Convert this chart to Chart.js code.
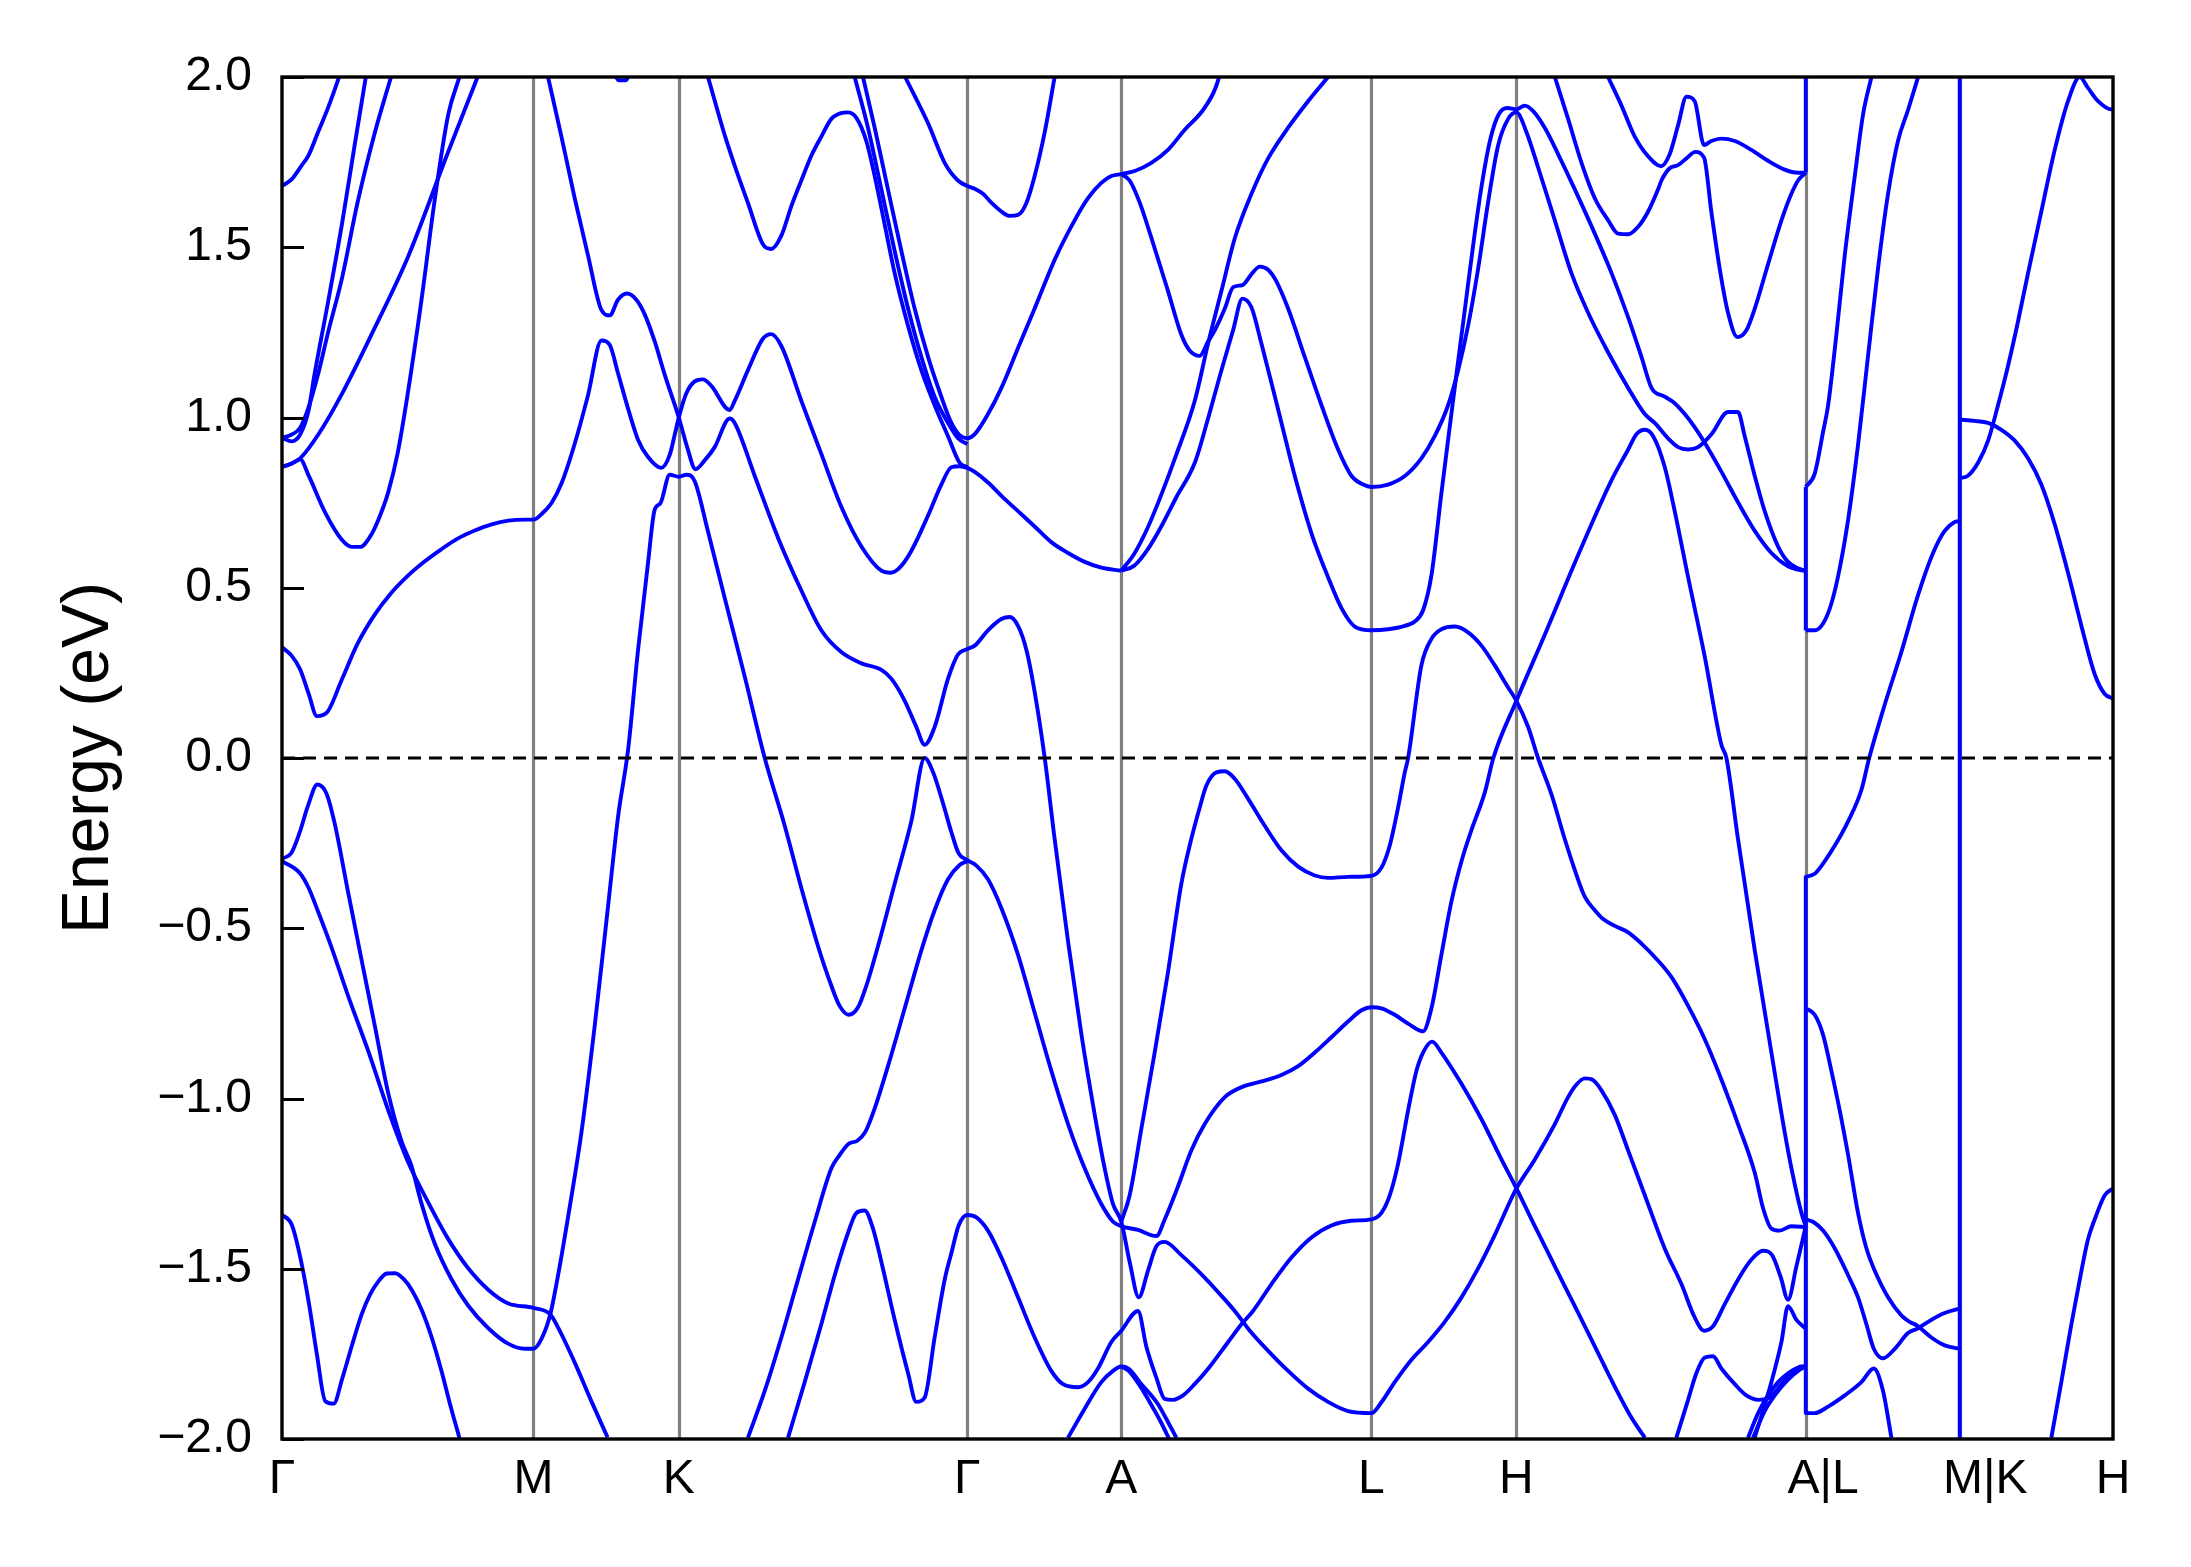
<!DOCTYPE html>
<html>
<head>
<meta charset="utf-8">
<script src="https://cdn.jsdelivr.net/npm/chart.js@4"></script>
<style>
  html, body { margin: 0; padding: 0; background: #fff; }
  canvas { display: block; }
</style>
</head>
<body>
<canvas id="bands" width="2191" height="1567"></canvas>
<script>
// high symmetry points along the k path
const kPoints = [0, 1.80, 2.84, 4.905, 6.007, 7.797, 8.835, 10.906, 12.008, 13.105]
const kLabels = ['Γ', 'M', 'K', 'Γ', 'A', 'L', 'H', 'A|L', 'M|K', 'H']
const kLabelPos = [0, 1.80, 2.84, 4.905, 6.007, 7.797, 8.835, 11.03, 12.19, 13.105]
const eTicks = [-2, -1.5, -1, -0.5, 0, 0.5, 1, 1.5, 2]
const fermi = [[0, 0], [13.105, 0]]

// bands, [k, E] pairs
const bandsFromGamma = [
  [[0,1.68],[0.07,1.70],[0.14,1.74],[0.19,1.77],[0.26,1.84],[0.33,1.91],[0.40,1.99],[0.43,2.03]],
  [[0,0.94],[0.07,0.93],[0.13,0.95],[0.19,1.02],[0.23,1.12],[0.33,1.34],[0.43,1.57],[0.52,1.80],[0.60,2.0]],
  [[0,0.94],[0.07,0.95],[0.13,0.97],[0.19,1.03],[0.26,1.13],[0.33,1.25],[0.43,1.41],[0.54,1.63],[0.66,1.83],[0.78,2.0]],
  [[0,0.855],[0.07,0.865],[0.13,0.88],[0.26,0.95],[0.43,1.07],[0.66,1.26],[0.90,1.47],[1.18,1.77],[1.40,2.0]],
  [[0,0.855],[0.07,0.865],[0.13,0.877],[0.19,0.83],[0.31,0.72],[0.43,0.64],[0.50,0.62],[0.56,0.62],[0.63,0.65],[0.69,0.70],[0.76,0.78],[0.83,0.90],[0.90,1.07],[1.00,1.35],[1.09,1.63],[1.19,1.89],[1.27,2.0]],
  [[0,0.325],[0.07,0.30],[0.13,0.26],[0.19,0.19],[0.25,0.123],[0.32,0.133],[0.43,0.232],[0.54,0.335],[0.66,0.419],[0.78,0.484],[0.90,0.535],[1.02,0.577],[1.14,0.613],[1.26,0.645],[1.38,0.668],[1.50,0.686],[1.62,0.697],[1.74,0.70],[1.80,0.70],[1.857,0.716],[1.928,0.748],[2.0,0.806],[2.095,0.923],[2.19,1.065],[2.286,1.226],[2.346,1.213],[2.405,1.13],[2.477,1.026],[2.548,0.935],[2.62,0.884],[2.715,0.852],[2.775,0.89],[2.81,0.948],[2.84,1.0],[2.894,1.071],[2.954,1.106],[3.013,1.112],[3.073,1.093],[3.204,1.022],[3.24,1.049],[3.335,1.139],[3.443,1.232],[3.502,1.245],[3.574,1.21],[3.717,1.049],[3.86,0.893],[4.003,0.738],[4.147,0.621],[4.29,0.55],[4.356,0.544],[4.421,0.559],[4.504,0.608],[4.624,0.712],[4.719,0.803],[4.791,0.854],[4.85,0.857],[4.905,0.852],[4.958,0.84],[5.053,0.809],[5.149,0.77],[5.268,0.725],[5.387,0.68],[5.506,0.634],[5.626,0.602],[5.745,0.576],[5.864,0.559],[6.007,0.55]],
  [[0,-0.296],[0.067,-0.279],[0.127,-0.218],[0.186,-0.14],[0.253,-0.078],[0.318,-0.104],[0.377,-0.192],[0.473,-0.394],[0.568,-0.59],[0.664,-0.786],[0.759,-0.982],[0.855,-1.125],[0.926,-1.197],[0.998,-1.308],[1.093,-1.426],[1.212,-1.53],[1.332,-1.608],[1.475,-1.674],[1.618,-1.72],[1.737,-1.735],[1.80,-1.735],[1.857,-1.706],[1.919,-1.636],[1.976,-1.519],[2.047,-1.349],[2.143,-1.10],[2.238,-0.787],[2.334,-0.434],[2.405,-0.173],[2.477,0.024],[2.548,0.316],[2.62,0.574],[2.667,0.729],[2.708,0.748],[2.775,0.832],[2.84,0.826],[2.894,0.832],[2.954,0.813],[3.049,0.665],[3.168,0.471],[3.312,0.239],[3.455,0.0],[3.598,-0.199],[3.717,-0.382],[3.836,-0.552],[3.932,-0.669],[3.991,-0.728],[4.056,-0.754],[4.123,-0.732],[4.182,-0.669],[4.266,-0.552],[4.385,-0.369],[4.504,-0.186],[4.60,0.0],[4.66,-0.042],[4.731,-0.133],[4.791,-0.218],[4.843,-0.28],[4.905,-0.30],[4.97,-0.316],[5.053,-0.356],[5.149,-0.441],[5.268,-0.578],[5.387,-0.748],[5.506,-0.918],[5.626,-1.075],[5.745,-1.205],[5.864,-1.31],[5.948,-1.362],[6.007,-1.375],[6.127,-1.386],[6.258,-1.404],[6.317,-1.356],[6.413,-1.258],[6.508,-1.153],[6.604,-1.075],[6.748,-0.996],[6.891,-0.963],[7.01,-0.95],[7.153,-0.931],[7.273,-0.905],[7.392,-0.865],[7.511,-0.82],[7.63,-0.774],[7.726,-0.741],[7.797,-0.732],[7.869,-0.735],[7.964,-0.754],[8.06,-0.78],[8.167,-0.803],[8.227,-0.735],[8.298,-0.578],[8.37,-0.421],[8.442,-0.303],[8.513,-0.212],[8.609,-0.101],[8.67,0.0],[8.835,0.168],[9.038,0.362],[9.277,0.596],[9.516,0.816],[9.635,0.906],[9.694,0.951],[9.754,0.964],[9.814,0.945],[9.897,0.854],[9.968,0.725],[10.064,0.531],[10.183,0.298],[10.302,0.039],[10.338,0.0],[10.421,-0.238],[10.541,-0.565],[10.66,-0.865],[10.779,-1.153],[10.875,-1.336],[10.906,-1.375]],
  [[0,-0.303],[0.13,-0.339],[0.19,-0.381],[0.26,-0.453],[0.35,-0.551],[0.47,-0.695],[0.62,-0.864],[0.76,-1.034],[0.90,-1.184],[1.05,-1.308],[1.19,-1.413],[1.33,-1.497],[1.48,-1.563],[1.62,-1.602],[1.80,-1.615],[1.92,-1.634],[1.98,-1.676],[2.10,-1.78],[2.21,-1.885],[2.33,-1.995]],
  [[0,-1.341],[0.07,-1.371],[0.13,-1.465],[0.19,-1.595],[0.25,-1.752],[0.31,-1.889],[0.37,-1.896],[0.43,-1.824],[0.50,-1.726],[0.57,-1.634],[0.63,-1.576],[0.69,-1.537],[0.75,-1.514],[0.81,-1.513],[0.87,-1.53],[0.93,-1.563],[1.00,-1.621],[1.07,-1.70],[1.14,-1.798],[1.21,-1.909],[1.27,-1.997]]
]

const bandsFromM = [
  [[2.36,2.03],[2.41,1.99],[2.46,1.99],[2.50,2.03]],
  [[1.904,2.0],[2.0,1.825],[2.095,1.644],[2.19,1.476],[2.286,1.316],[2.346,1.30],[2.405,1.346],[2.47,1.364],[2.536,1.346],[2.596,1.303],[2.667,1.224],[2.739,1.126],[2.84,1.0],[2.902,0.91],[2.959,0.848],[3.025,0.874],[3.097,0.913],[3.204,0.997],[3.24,0.984],[3.383,0.829],[3.55,0.647],[3.717,0.492],[3.86,0.375],[4.003,0.311],[4.147,0.278],[4.29,0.259],[4.361,0.233],[4.457,0.168],[4.54,0.091],[4.60,0.039],[4.671,0.091],[4.767,0.233],[4.838,0.304],[4.905,0.32],[4.958,0.33],[5.053,0.375],[5.149,0.408],[5.208,0.414],[5.268,0.388],[5.328,0.317],[5.387,0.194],[5.459,0.0],[5.53,-0.238],[5.626,-0.539],[5.722,-0.813],[5.817,-1.048],[5.888,-1.205],[5.948,-1.31],[6.007,-1.362],[6.067,-1.48],[6.132,-1.584],[6.198,-1.506],[6.258,-1.434],[6.317,-1.421],[6.437,-1.46],[6.604,-1.526],[6.676,-1.558],[6.819,-1.624],[6.927,-1.682],[7.058,-1.741],[7.201,-1.80],[7.344,-1.852],[7.487,-1.891],[7.63,-1.918],[7.797,-1.924],[7.869,-1.892],[7.964,-1.833],[8.084,-1.767],[8.203,-1.715],[8.322,-1.656],[8.442,-1.584],[8.561,-1.499],[8.68,-1.401],[8.835,-1.264],[8.967,-1.179],[9.11,-1.075],[9.205,-0.996],[9.265,-0.959],[9.325,-0.941],[9.384,-0.946],[9.444,-0.976],[9.539,-1.048],[9.635,-1.153],[9.754,-1.284],[9.897,-1.441],[10.016,-1.545],[10.111,-1.643],[10.178,-1.682],[10.242,-1.669],[10.326,-1.604],[10.421,-1.532],[10.517,-1.473],[10.60,-1.447],[10.665,-1.46],[10.727,-1.525],[10.779,-1.591],[10.839,-1.493],[10.906,-1.375]]
]

const bandsFromK = [
  [[3.049,2.0],[3.168,1.83],[3.24,1.74],[3.335,1.63],[3.443,1.508],[3.502,1.495],[3.574,1.534],[3.645,1.62],[3.717,1.696],[3.79,1.77],[3.86,1.825],[3.932,1.877],[4.003,1.894],[4.051,1.896],[4.111,1.88],[4.182,1.812],[4.242,1.709],[4.314,1.566],[4.385,1.424],[4.481,1.269],[4.576,1.139],[4.671,1.036],[4.767,0.945],[4.85,0.867],[4.905,0.854]],
  [[4.099,2.0],[4.194,1.851],[4.29,1.67],[4.385,1.489],[4.481,1.32],[4.576,1.178],[4.671,1.061],[4.767,0.984],[4.838,0.939],[4.905,0.922]],
  [[4.158,2.0],[4.242,1.851],[4.337,1.67],[4.433,1.489],[4.528,1.32],[4.624,1.178],[4.719,1.061],[4.791,0.984],[4.85,0.948],[4.905,0.939],[4.958,0.951],[5.053,1.01],[5.149,1.087],[5.268,1.204],[5.387,1.32],[5.53,1.463],[5.673,1.579],[5.769,1.644],[5.864,1.689],[5.936,1.709],[6.007,1.715],[6.103,1.724],[6.222,1.748],[6.341,1.786],[6.461,1.845],[6.604,1.91],[6.70,1.99],[6.72,2.03]],
  [[4.46,2.0],[4.624,1.864],[4.743,1.748],[4.838,1.696],[4.905,1.68],[4.958,1.672],[5.017,1.657],[5.077,1.631],[5.149,1.605],[5.208,1.592],[5.268,1.595],[5.328,1.63],[5.387,1.709],[5.459,1.838],[5.53,2.0]],
  [[3.335,-1.996],[3.455,-1.859],[3.574,-1.702],[3.693,-1.532],[3.813,-1.362],[3.932,-1.205],[3.991,-1.166],[4.056,-1.133],[4.118,-1.124],[4.175,-1.098],[4.242,-1.029],[4.337,-0.905],[4.457,-0.735],[4.576,-0.565],[4.671,-0.447],[4.767,-0.356],[4.85,-0.314],[4.905,-0.303]],
  [[3.622,-1.996],[3.741,-1.833],[3.86,-1.663],[3.956,-1.519],[4.051,-1.395],[4.111,-1.336],[4.17,-1.329],[4.23,-1.382],[4.29,-1.48],[4.385,-1.65],[4.481,-1.807],[4.54,-1.891],[4.60,-1.878],[4.671,-1.702],[4.743,-1.532],[4.791,-1.454],[4.843,-1.373],[4.905,-1.342],[4.97,-1.349],[5.053,-1.388],[5.149,-1.467],[5.268,-1.584],[5.387,-1.702],[5.506,-1.80],[5.59,-1.839],[5.697,-1.848],[5.769,-1.833],[5.84,-1.793],[5.936,-1.715],[6.007,-1.682],[6.127,-1.624],[6.186,-1.728],[6.258,-1.82],[6.317,-1.882],[6.377,-1.885],[6.449,-1.872],[6.532,-1.839],[6.63,-1.793],[6.772,-1.715],[6.867,-1.663],[6.95,-1.624],[7.082,-1.545],[7.225,-1.467],[7.368,-1.408],[7.511,-1.373],[7.654,-1.359],[7.797,-1.355],[7.869,-1.336],[7.929,-1.284],[7.988,-1.192],[8.06,-1.035],[8.12,-0.918],[8.167,-0.865],[8.232,-0.833],[8.298,-0.865],[8.442,-0.957],[8.585,-1.061],[8.728,-1.179],[8.835,-1.264],[8.967,-1.375],[9.11,-1.493],[9.253,-1.61],[9.396,-1.728],[9.539,-1.846],[9.658,-1.937],[9.754,-1.996]]
]

const bandsFromA = [
  [[6.007,1.715],[6.067,1.696],[6.139,1.631],[6.222,1.528],[6.341,1.372],[6.437,1.243],[6.496,1.197],[6.568,1.181],[6.628,1.223],[6.676,1.256],[6.748,1.32],[6.808,1.383],[6.874,1.389],[6.939,1.421],[6.998,1.443],[7.058,1.434],[7.117,1.40],[7.201,1.32],[7.32,1.178],[7.44,1.036],[7.559,0.906],[7.654,0.829],[7.738,0.803],[7.797,0.796],[7.917,0.803],[8.036,0.828],[8.155,0.88],[8.25,0.945],[8.346,1.036],[8.418,1.139],[8.489,1.269],[8.561,1.437],[8.632,1.631],[8.704,1.799],[8.776,1.877],[8.835,1.896],[8.907,1.838],[8.99,1.735],[9.11,1.579],[9.229,1.424],[9.349,1.307],[9.492,1.191],[9.635,1.087],[9.754,1.01],[9.825,0.984],[9.92,0.939],[9.992,0.913],[10.064,0.906],[10.135,0.913],[10.231,0.951],[10.35,1.016],[10.421,1.016],[10.469,0.945],[10.541,0.828],[10.612,0.725],[10.708,0.621],[10.779,0.576],[10.851,0.557],[10.906,0.55]],
  [[6.007,0.55],[6.1,0.565],[6.2,0.615],[6.3,0.685],[6.4,0.765],[6.533,0.867],[6.628,0.997],[6.724,1.139],[6.807,1.256],[6.874,1.349],[6.939,1.323],[7.01,1.217],[7.13,1.023],[7.249,0.828],[7.368,0.66],[7.487,0.531],[7.583,0.44],[7.678,0.386],[7.797,0.375],[7.917,0.378],[8.036,0.388],[8.108,0.401],[8.167,0.434],[8.227,0.537],[8.298,0.777],[8.36,0.98],[8.41,1.14],[8.47,1.33],[8.53,1.52],[8.59,1.69],[8.65,1.82],[8.708,1.89],[8.77,1.909],[8.835,1.905],[8.895,1.916],[8.955,1.90],[9.038,1.851],[9.134,1.773],[9.253,1.67],[9.396,1.54],[9.516,1.424],[9.635,1.294],[9.73,1.178],[9.802,1.087],[9.897,1.061],[9.968,1.042],[10.04,1.01],[10.112,0.971],[10.183,0.926],[10.302,0.841],[10.421,0.751],[10.541,0.667],[10.66,0.602],[10.779,0.563],[10.851,0.553],[10.906,0.55]],
  [[6.007,0.55],[6.1,0.60],[6.2,0.68],[6.3,0.78],[6.4,0.89],[6.533,1.049],[6.628,1.217],[6.724,1.372],[6.82,1.527],[6.939,1.657],[7.058,1.761],[7.201,1.851],[7.344,1.929],[7.487,2.0]],
  [[6.007,-1.362],[6.067,-1.284],[6.151,-1.088],[6.246,-0.865],[6.341,-0.63],[6.437,-0.369],[6.508,-0.238],[6.568,-0.146],[6.616,-0.081],[6.688,-0.042],[6.748,-0.039],[6.819,-0.061],[6.915,-0.12],[7.034,-0.199],[7.153,-0.271],[7.273,-0.319],[7.392,-0.345],[7.487,-0.352],[7.63,-0.349],[7.797,-0.346],[7.869,-0.322],[7.929,-0.256],[7.988,-0.146],[8.036,-0.042],[8.06,0.0],[8.155,0.272],[8.227,0.35],[8.298,0.378],[8.394,0.386],[8.489,0.369],[8.585,0.33],[8.68,0.272],[8.776,0.207],[8.835,0.168],[8.919,0.091],[8.99,0.0],[9.086,-0.107],[9.181,-0.238],[9.253,-0.329],[9.325,-0.408],[9.396,-0.447],[9.456,-0.473],[9.539,-0.493],[9.635,-0.512],[9.73,-0.545],[9.826,-0.585],[9.944,-0.643],[10.064,-0.728],[10.183,-0.826],[10.302,-0.944],[10.421,-1.075],[10.541,-1.218],[10.601,-1.323],[10.66,-1.382],[10.72,-1.388],[10.803,-1.375],[10.906,-1.378]],
  [[5.626,-1.996],[5.745,-1.911],[5.864,-1.833],[5.948,-1.80],[6.007,-1.787],[6.067,-1.796],[6.139,-1.833],[6.222,-1.872],[6.27,-1.898],[6.341,-1.95],[6.401,-1.996]],
  [[6.007,-1.787],[6.06,-1.80],[6.15,-1.85],[6.222,-1.90],[6.29,-1.95],[6.35,-2.0]]
]

const bandsFromH = [
  [[9.11,2.0],[9.205,1.877],[9.301,1.748],[9.396,1.644],[9.492,1.579],[9.563,1.54],[9.635,1.538],[9.706,1.56],[9.778,1.605],[9.849,1.67],[9.873,1.696],[9.932,1.732],[9.992,1.741],[10.052,1.761],[10.116,1.78],[10.178,1.763],[10.23,1.605],[10.29,1.437],[10.35,1.307],[10.417,1.236],[10.481,1.256],[10.541,1.32],[10.636,1.45],[10.732,1.579],[10.803,1.657],[10.851,1.696],[10.906,1.719]],
  [[9.491,2.0],[9.587,1.916],[9.682,1.825],[9.778,1.767],[9.87,1.738],[9.932,1.773],[9.992,1.858],[10.052,1.942],[10.111,1.929],[10.178,1.80],[10.23,1.812],[10.302,1.819],[10.398,1.812],[10.517,1.786],[10.636,1.754],[10.755,1.728],[10.851,1.719],[10.906,1.719]],
  [[10.541,-1.996],[10.66,-1.833],[10.732,-1.715],[10.779,-1.61],[10.839,-1.65],[10.906,-1.676]],
  [[9.98,-1.996],[10.064,-1.885],[10.123,-1.807],[10.183,-1.761],[10.242,-1.757],[10.302,-1.793],[10.398,-1.839],[10.481,-1.872],[10.565,-1.885],[10.648,-1.878],[10.732,-1.839],[10.803,-1.807],[10.875,-1.787],[10.906,-1.787]],
  [[10.493,-1.996],[10.565,-1.924],[10.636,-1.872],[10.708,-1.833],[10.779,-1.807],[10.851,-1.79],[10.906,-1.787]],
  [[10.529,-1.996],[10.612,-1.918],[10.684,-1.872],[10.779,-1.826],[10.851,-1.80],[10.906,-1.787]]
]

const bandsFromAL = [
  [[10.906,0.796],[10.97,0.835],[11.03,0.958],[11.066,1.036],[11.125,1.243],[11.185,1.476],[11.257,1.709],[11.316,1.89],[11.376,2.0]],
  [[10.906,0.375],[10.97,0.375],[11.03,0.395],[11.089,0.453],[11.149,0.557],[11.209,0.699],[11.28,0.919],[11.351,1.178],[11.423,1.437],[11.495,1.657],[11.566,1.812],[11.638,1.903],[11.71,2.0]],
  [[10.906,-0.349],[10.97,-0.34],[11.03,-0.31],[11.113,-0.258],[11.209,-0.186],[11.304,-0.094],[11.36,0.0],[11.47,0.155],[11.59,0.311],[11.71,0.479],[11.817,0.602],[11.9,0.667],[11.972,0.693],[12.008,0.696]],
  [[10.906,-0.735],[10.97,-0.754],[11.03,-0.813],[11.089,-0.918],[11.149,-1.035],[11.209,-1.166],[11.28,-1.336],[11.34,-1.44],[11.4,-1.506],[11.495,-1.584],[11.59,-1.637],[11.65,-1.656],[11.703,-1.667],[11.805,-1.702],[11.9,-1.725],[12.008,-1.735]],
  [[10.906,-1.355],[10.958,-1.362],[11.03,-1.388],[11.113,-1.44],[11.209,-1.519],[11.28,-1.584],[11.34,-1.663],[11.393,-1.735],[11.459,-1.763],[11.543,-1.735],[11.638,-1.689],[11.703,-1.676],[11.805,-1.65],[11.9,-1.63],[12.008,-1.617]],
  [[10.906,-1.924],[10.97,-1.924],[11.066,-1.905],[11.185,-1.872],[11.304,-1.833],[11.393,-1.793],[11.459,-1.859],[11.519,-1.996]]
]

const bandsFromMK = [
  [[12.008,0.822],[12.067,0.829],[12.139,0.867],[12.211,0.932],[12.282,1.036],[12.354,1.152],[12.425,1.282],[12.497,1.424],[12.592,1.605],[12.688,1.786],[12.783,1.929],[12.867,2.0],[12.926,1.968],[12.998,1.929],[13.093,1.905],[13.105,1.905]],
  [[12.008,0.994],[12.115,0.99],[12.211,0.984],[12.306,0.964],[12.402,0.932],[12.497,0.88],[12.592,0.803],[12.688,0.686],[12.783,0.544],[12.879,0.388],[12.974,0.246],[13.046,0.188],[13.105,0.175]],
  [[12.664,-1.996],[12.735,-1.833],[12.807,-1.663],[12.879,-1.506],[12.926,-1.414],[12.986,-1.342],[13.046,-1.284],[13.105,-1.264]]
]

// vertical jumps where the path is broken (A|L and M|K)
const jumps = [
  [[10.906,1.719],[10.906,2.05]],
  [[10.906,0.375],[10.906,0.796]],
  [[10.906,-0.349],[10.906,-1.924]],
  [[12.008,-2.05],[12.008,2.05]]
]

const FONT = "'Liberation Sans', Arial, Helvetica, sans-serif"
const toXY = pts => pts.map(([x, y]) => ({ x, y }))

const bandStyle = {
  borderColor: '#0000ff',
  borderWidth: 3.9,
  borderJoinStyle: 'round',
  pointRadius: 0,
  fill: false,
  clip: 0,
  order: 2
}

const datasets = [
  ...[bandsFromGamma, bandsFromM, bandsFromK, bandsFromA, bandsFromH, bandsFromAL, bandsFromMK]
    .flat()
    .map(b => ({ ...bandStyle, data: toXY(b), cubicInterpolationMode: 'monotone' })),
  ...jumps.map(j => ({ ...bandStyle, data: toXY(j), tension: 0 })),
  {
    data: toXY(fermi),
    borderColor: '#000',
    borderWidth: 3,
    borderDash: [13, 8],
    pointRadius: 0,
    tension: 0,
    clip: 0,
    order: 0
  }
]

const whiteBg = {
  id: 'whiteBg',
  beforeDraw(chart) {
    const { ctx, width, height } = chart
    ctx.save()
    ctx.fillStyle = '#fff'
    ctx.fillRect(0, 0, width, height)
    ctx.restore()
  }
}

// gray lines at the high symmetry points
const kLines = {
  id: 'kLines',
  beforeDatasetsDraw(chart) {
    const { ctx, chartArea: a, scales: { x } } = chart
    ctx.save()
    ctx.strokeStyle = '#808080'
    ctx.lineWidth = 3.2
    kPoints.slice(1, -1).forEach(k => {
      const px = Math.round(x.getPixelForValue(k)) + 0.5
      ctx.beginPath()
      ctx.moveTo(px, a.top)
      ctx.lineTo(px, a.bottom)
      ctx.stroke()
    })
    ctx.restore()
  }
}

// box around the plot and inward y ticks
const frame = {
  id: 'frame',
  afterDatasetsDraw(chart) {
    const { ctx, chartArea: a, scales: { y } } = chart
    ctx.save()
    ctx.strokeStyle = '#000'
    ctx.lineWidth = 3
    y.ticks.forEach(t => {
      const py = Math.round(y.getPixelForValue(t.value)) + 0.5
      ctx.beginPath()
      ctx.moveTo(a.left, py)
      ctx.lineTo(a.left + 22, py)
      ctx.stroke()
    })
    ctx.lineWidth = 3.4
    ctx.strokeRect(a.left, a.top, a.right - a.left, a.bottom - a.top)
    ctx.restore()
  }
}

new Chart(document.getElementById('bands'), {
  type: 'line',
  data: { datasets },
  options: {
    responsive: false,
    devicePixelRatio: 1,
    animation: false,
    events: [],
    layout: { padding: { top: 77, right: 78, bottom: 0, left: 0 } },
    plugins: {
      legend: { display: false },
      tooltip: { enabled: false }
    },
    scales: {
      x: {
        type: 'linear',
        min: 0,
        max: 13.105,
        afterBuildTicks: s => { s.ticks = kLabelPos.map(v => ({ value: v })) },
        afterFit: s => { s.height = 128 },
        grid: { display: false, drawTicks: false },
        border: { display: false },
        ticks: {
          autoSkip: false,
          maxRotation: 0,
          padding: 12,
          color: '#000',
          font: { family: FONT, size: 48 },
          callback: (v, i) => kLabels[i]
        }
      },
      y: {
        type: 'linear',
        min: -2,
        max: 2,
        afterBuildTicks: s => { s.ticks = eTicks.map(v => ({ value: v })) },
        afterFit: s => { s.width = 282 },
        grid: { display: false, drawTicks: false },
        border: { display: false },
        ticks: {
          padding: 30,
          color: '#000',
          font: { family: FONT, size: 48 },
          callback: v => (v < 0 ? '\u2212' : '') + Math.abs(v).toFixed(1)
        },
        title: {
          display: true,
          text: 'Energy (eV)',
          color: '#000',
          font: { family: FONT, size: 66 },
          padding: { top: 50, bottom: 0 }
        }
      }
    }
  },
  plugins: [whiteBg, kLines, frame]
})
</script>
</body>
</html>
